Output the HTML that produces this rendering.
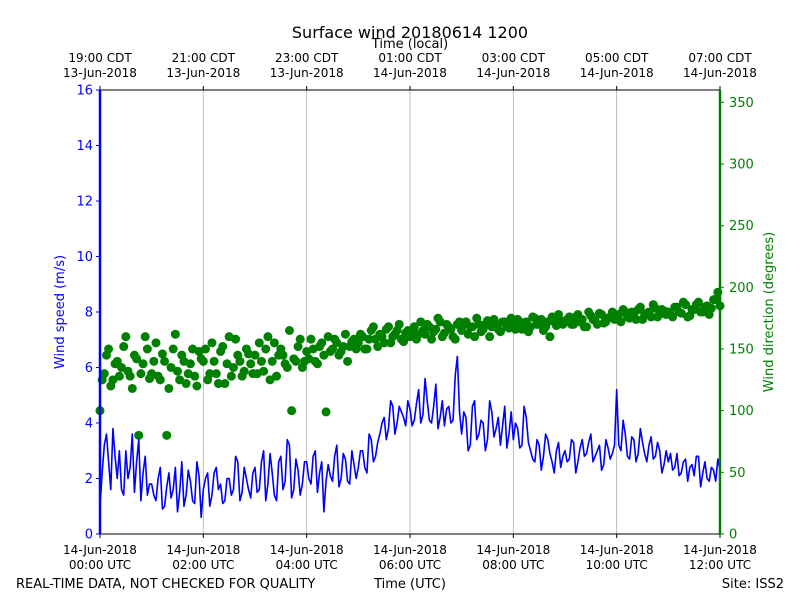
<!DOCTYPE html>
<html><head><meta charset="utf-8"><style>
body{margin:0;background:#fff;}
svg{display:block;font-family:"DejaVu Sans","Liberation Sans",sans-serif;}
</style></head><body>
<svg id="chart" width="800" height="600">
<text x="410" y="38" font-size="16" text-anchor="middle">Surface wind 20180614 1200</text>
<text x="410" y="48" font-size="13" text-anchor="middle">Time (local)</text>
<g id="grid"></g><g id="series"></g><g id="axes"></g>
<text x="64" y="312" font-size="13" fill="#0000ff" text-anchor="middle" transform="rotate(-90 64 312)">Wind speed (m/s)</text>
<text x="773" y="312" font-size="13" fill="#008000" text-anchor="middle" transform="rotate(-90 773 312)">Wind direction (degrees)</text>
<text x="16" y="588" font-size="13">REAL-TIME DATA, NOT CHECKED FOR QUALITY</text>
<text x="410" y="588" font-size="13" text-anchor="middle">Time (UTC)</text>
<text x="784" y="588" font-size="13" text-anchor="end">Site: ISS2</text>
</svg>
<script>
const speed=[1.0,3.2,2.6,3.8,2.0,1.6,3.0,2.4,1.5,3.4,2.2,1.4,
1.8,1.2,2.4,1.0,2.2,1.6,0.8,2.6,1.4,1.9,1.1,2.1,
1.6,2.2,1.4,2.4,1.8,1.2,2.0,1.6,2.6,1.5,2.0,1.3,
2.4,1.6,3.0,1.8,2.2,1.2,2.8,1.9,3.2,1.6,2.3,1.8,
2.6,1.8,3.0,2.2,0.8,2.5,1.9,3.2,2.0,2.7,1.8,2.5,
2.4,3.0,2.2,3.4,2.8,3.6,4.2,3.8,4.6,4.0,4.4,3.9,
4.5,4.1,5.2,4.3,4.8,4.0,5.4,4.2,3.9,4.6,4.1,6.4,
3.6,4.2,3.2,4.8,3.6,4.0,3.4,4.4,3.8,3.2,4.6,3.6,
3.4,3.8,3.2,4.2,3.0,2.6,3.2,2.8,3.4,2.6,3.0,2.4,
3.0,2.7,3.3,2.6,3.4,2.9,3.6,2.8,3.2,2.5,3.1,2.9,
5.2,3.0,3.6,2.7,3.4,2.9,3.3,2.6,3.5,2.8,3.0,2.5,
2.6,2.3,2.9,2.2,2.7,2.4,2.1,2.8,2.2,2.0,2.4,1.9,2.3];
const speedB=[2.2,3.6,1.6,2.8,3.0,1.4,2.0,3.6,2.6,1.2,2.8,1.8,
1.4,2.0,0.9,1.7,1.3,2.4,1.5,1.0,2.3,1.2,2.6,0.6,
2.0,1.0,2.2,1.6,1.1,2.0,1.4,2.8,1.2,2.4,1.6,2.2,
1.5,2.6,1.2,2.9,1.4,2.6,1.6,3.4,1.3,2.7,1.4,2.6,
2.0,2.8,1.5,2.6,1.9,2.1,2.8,1.7,2.9,1.9,3.0,2.0,
3.0,2.4,3.6,2.6,3.3,4.0,3.4,4.8,3.6,4.6,4.2,4.8,
3.9,4.7,4.0,5.6,4.1,4.6,3.8,4.8,4.5,4.0,5.7,4.4,
4.4,3.0,4.6,3.4,4.1,3.0,4.8,3.5,4.2,3.9,3.1,4.4,
4.0,3.1,4.6,3.3,2.7,3.4,2.3,3.6,2.9,2.2,3.3,2.8,
2.6,3.4,2.2,3.1,2.8,3.3,2.6,3.0,2.3,3.4,2.7,3.2,
3.2,4.1,2.8,3.5,2.6,3.8,2.9,3.2,2.7,3.3,2.2,3.0,
2.9,2.4,2.1,2.6,1.9,2.5,2.8,1.7,2.6,1.9,2.3,2.7];
const dirA=[100,130,150,125,140,135,160,128,145,80,138,150,
130,155,125,140,118,150,132,145,122,138,128,148,
140,125,155,130,148,122,160,135,145,128,150,138,
145,155,132,160,140,128,150,138,165,142,152,135,
148,158,140,152,145,160,150,155,148,162,152,158,
155,160,150,165,158,162,155,168,160,165,158,163,
160,168,162,165,170,158,166,172,163,168,160,170,
165,172,168,160,170,166,173,168,170,164,172,167,
170,174,166,172,168,175,170,165,172,176,169,173,
172,176,170,178,174,168,177,173,179,171,175,180,
176,172,180,175,178,182,174,179,176,183,178,181,
180,176,184,179,186,177,182,188,180,185,183,190,185];
const dirB=[125,145,120,138,128,152,132,118,142,130,160,126,
140,128,146,80,135,162,125,140,130,150,120,142,
150,130,140,122,152,138,128,158,140,132,146,130,
130,140,150,125,155,145,145,135,100,140,158,140,
142,150,138,155,99,148,158,145,152,140,156,150,
162,150,158,168,152,160,166,155,162,170,156,165,
165,158,172,162,168,164,175,160,170,166,158,172,
170,162,168,175,164,170,160,174,166,172,168,175,
166,172,168,164,176,170,174,168,160,172,178,170,
174,170,176,172,168,180,174,170,178,172,176,174,
178,182,176,180,174,184,178,180,186,176,182,178,
178,184,180,188,176,182,186,180,184,178,190,196];
const utcTicks=[["14-Jun-2018","00:00 UTC"],["14-Jun-2018","02:00 UTC"],["14-Jun-2018","04:00 UTC"],["14-Jun-2018","06:00 UTC"],["14-Jun-2018","08:00 UTC"],["14-Jun-2018","10:00 UTC"],["14-Jun-2018","12:00 UTC"]];
const localTicks=[["19:00 CDT","13-Jun-2018"],["21:00 CDT","13-Jun-2018"],["23:00 CDT","13-Jun-2018"],["01:00 CDT","14-Jun-2018"],["03:00 CDT","14-Jun-2018"],["05:00 CDT","14-Jun-2018"],["07:00 CDT","14-Jun-2018"]];
const speedTicks=[0,2,4,6,8,10,12,14,16];
const dirTicks=[0,50,100,150,200,250,300,350];

const NS="http://www.w3.org/2000/svg";
const L=100,R=720,T=90,B=534;
const xs=h=>L+(R-L)*h/12;
const ys=v=>B-(B-T)*v/16;
const yd=v=>B-(B-T)*v/360;
function mk(tag,attrs,parent,txt){const e=document.createElementNS(NS,tag);for(const k in attrs)e.setAttribute(k,attrs[k]);if(txt!==undefined)e.textContent=txt;parent.appendChild(e);return e;}
const grid=document.getElementById('grid'),ser=document.getElementById('series'),ax=document.getElementById('axes');
utcTicks.forEach((t,i)=>{const x=xs(i*2);
 const g=mk('line',{x1:x,x2:x,y1:T,y2:B,stroke:'#b0b0b0','stroke-width':0.8},grid);
 
 
 mk('line',{x1:x,x2:x,y1:B,y2:B+4,stroke:'#000'},ax);
 mk('line',{x1:x,x2:x,y1:T,y2:T-4,stroke:'#000'},ax);
 const a=mk('text',{x:x,y:554,'font-size':12,'text-anchor':'middle'},ax,t[0]);
 
 
 mk('text',{x:x,y:569,'font-size':12,'text-anchor':'middle'},ax,t[1]);
 const lt=localTicks[i];
 const b=mk('text',{x:x,y:62,'font-size':12,'text-anchor':'middle'},ax,lt[0]);
 
 
 mk('text',{x:x,y:77,'font-size':12,'text-anchor':'middle'},ax,lt[1]);
});
dirA.forEach((v,i)=>{const c=mk('circle',{cx:xs(i/12),cy:yd(v),r:4.5,fill:'#008000'},ser);
 
 });
dirB.forEach((v,i)=>{const c=mk('circle',{cx:xs((i+0.5)/12),cy:yd(v),r:4.5,fill:'#008000'},ser);
 
 });
const pts=[];
speed.forEach((v,i)=>{pts.push([i/12,v]);if(i<speedB.length)pts.push([(i+0.5)/12,speedB[i]]);});
const p=mk('polyline',{points:pts.map(q=>xs(q[0])+','+ys(q[1])).join(' '),fill:'none',stroke:'#0000ff','stroke-width':1.6,'stroke-linejoin':'round'},ser);


mk('line',{x1:L,x2:R,y1:T,y2:T,stroke:'#000'},ax);
mk('line',{x1:L,x2:R,y1:B,y2:B,stroke:'#000'},ax);
const ls=mk('line',{x1:L,x2:L,y1:T,y2:B,stroke:'#0000ff','stroke-width':2.5},ax);


const rs=mk('line',{x1:R,x2:R,y1:T,y2:B,stroke:'#008000','stroke-width':2.5},ax);


speedTicks.forEach(v=>{const y=ys(v);
 mk('line',{x1:L-4,x2:L,y1:y,y2:y,stroke:'#0000ff'},ax);
 const t=mk('text',{x:L-7,y:y+4.5,'font-size':13,'text-anchor':'end',fill:'#0000ff'},ax,v);
 
 });
dirTicks.forEach(v=>{const y=yd(v);
 mk('line',{x1:R,x2:R+4,y1:y,y2:y,stroke:'#008000'},ax);
 const t=mk('text',{x:R+9,y:y+4.5,'font-size':13,fill:'#008000'},ax,v);
 
 });
</script>
</body></html>
